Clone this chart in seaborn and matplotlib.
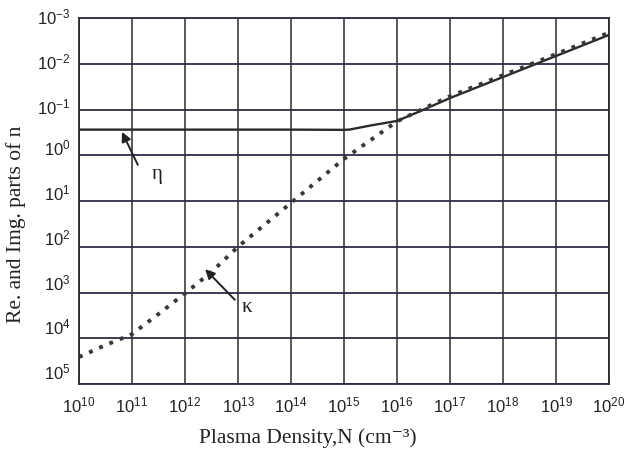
import numpy as np
import pandas as pd
import matplotlib
matplotlib.use("Agg")
import matplotlib.pyplot as plt
from matplotlib.transforms import ScaledTranslation
import seaborn as sns

# ---- data (log10 values) ----
eta_logN = [10.0, 11.0, 12.0, 13.0, 14.0, 15.0, 15.1, 15.5, 16.0, 16.45, 17.0, 18.0, 19.0, 20.0]
eta_exp = [-0.56, -0.56, -0.56, -0.56, -0.56, -0.555, -0.56, -0.65, -0.75, -0.97, -1.25, -1.71, -2.17, -2.63]

kappa_logN = [10.0, 10.5, 11.0, 11.5, 12.0, 12.5, 13.0, 13.5, 14.0, 14.5, 15.0, 15.5, 16.0, 16.5, 17.0, 18.0, 19.0, 20.0]
kappa_exp = [4.41, 4.15, 3.91, 3.47, 3.02, 2.55, 2.0, 1.52, 1.04, 0.56, 0.08, -0.33, -0.74, -1.02, -1.29, -1.75, -2.21, -2.68]

x_ticks_exp = list(range(10, 21))
y_ticks_exp = list(range(-3, 6))
# vertical shift (px, upward) of each y tick label as printed
y_label_shift = [2, 3, 4, 8, 9, 10, 11, 12, 13]

eta_df = pd.DataFrame({"N": 10.0 ** np.array(eta_logN), "v": 10.0 ** np.array(eta_exp)})
kap_df = pd.DataFrame({"N": 10.0 ** np.array(kappa_logN), "v": 10.0 ** np.array(kappa_exp)})

sns.set_theme(style="white")
plt.rcParams["font.family"] = ["Liberation Sans", "DejaVu Sans"]
plt.rcParams["mathtext.fontset"] = "custom"
plt.rcParams["mathtext.rm"] = "Liberation Sans"
plt.rcParams["mathtext.it"] = "Liberation Sans:italic"
plt.rcParams["mathtext.sf"] = "Liberation Sans"

fig = plt.figure(figsize=(6.33, 4.55), dpi=100)
ax = fig.add_axes([79 / 633, 1 - 384 / 455, 530 / 633, 366 / 455])

ink = "#2b2b2b"
hgrid = "#35294a"

sns.lineplot(data=eta_df, x="N", y="v", ax=ax, color=ink, linewidth=1.7, estimator=None, sort=False)
sns.lineplot(data=kap_df, x="N", y="v", ax=ax, color="#383838", linewidth=2.8, estimator=None,
             sort=False, linestyle=(0, (1, 1.85)), dash_capstyle="butt")

ax.set_xscale("log")
ax.set_yscale("log")
ax.set_xlim(1e10, 1e20)
ax.set_ylim(1e5, 1e-3)

ax.set_xticks([10.0 ** e for e in x_ticks_exp])
ax.set_xticklabels([f"$\\mathrm{{10^{{{e}}}}}$" for e in x_ticks_exp])
ax.set_yticks([10.0 ** e for e in y_ticks_exp])
ax.set_yticklabels([f"$\\mathrm{{10^{{{e}}}}}$" for e in y_ticks_exp])
ax.minorticks_off()
ax.tick_params(axis="both", length=0, labelsize=12, colors="#222222")
ax.tick_params(axis="x", pad=8)
ax.tick_params(axis="y", pad=6)
for lab, dy in zip(ax.get_yticklabels(), y_label_shift):
    lab.set_transform(lab.get_transform() + ScaledTranslation(0, dy / 100, fig.dpi_scale_trans))

for e in x_ticks_exp:
    ax.axvline(10.0 ** e, color=ink, linewidth=1.1, zorder=0)
for e in y_ticks_exp:
    ax.axhline(10.0 ** e, color=hgrid, linewidth=1.3, zorder=0)
for s in ax.spines.values():
    s.set_color(ink)
    s.set_linewidth(1.3)
ax.spines["top"].set_color(hgrid)
ax.spines["bottom"].set_color(hgrid)

serif = ["Liberation Serif", "DejaVu Serif"]
ax.set_xlabel("")
ax.set_ylabel("")
fig.text(308 / 633, 1 - 438 / 455, "Plasma Density,N (cm⁻³)", ha="center", va="center",
         fontsize=15.5, family=serif, color="#222222")
fig.text(16 / 633, 1 - 224 / 455, "Re. and Img. parts of n", ha="center", va="center",
         rotation=90, fontsize=15.5, family=serif, color="#222222")

arrow = dict(arrowstyle="-|>", color="#222222", lw=1.4, mutation_scale=14, shrinkA=0, shrinkB=0)
ax.annotate("", xy=(10 ** 10.81, 10 ** -0.51), xytext=(10 ** 11.11, 10 ** 0.21), arrowprops=arrow)
ax.text(10 ** 11.47, 10 ** 0.43, "η", fontsize=15, family=serif, ha="center", va="center", color="#222222")
ax.annotate("", xy=(10 ** 12.38, 10 ** 2.49), xytext=(10 ** 12.94, 10 ** 3.16), arrowprops=arrow)
ax.text(10 ** 13.17, 10 ** 3.32, "κ", fontsize=15, family=serif, ha="center", va="center", color="#222222")

fig.savefig("out.png", dpi=100, facecolor="white")
